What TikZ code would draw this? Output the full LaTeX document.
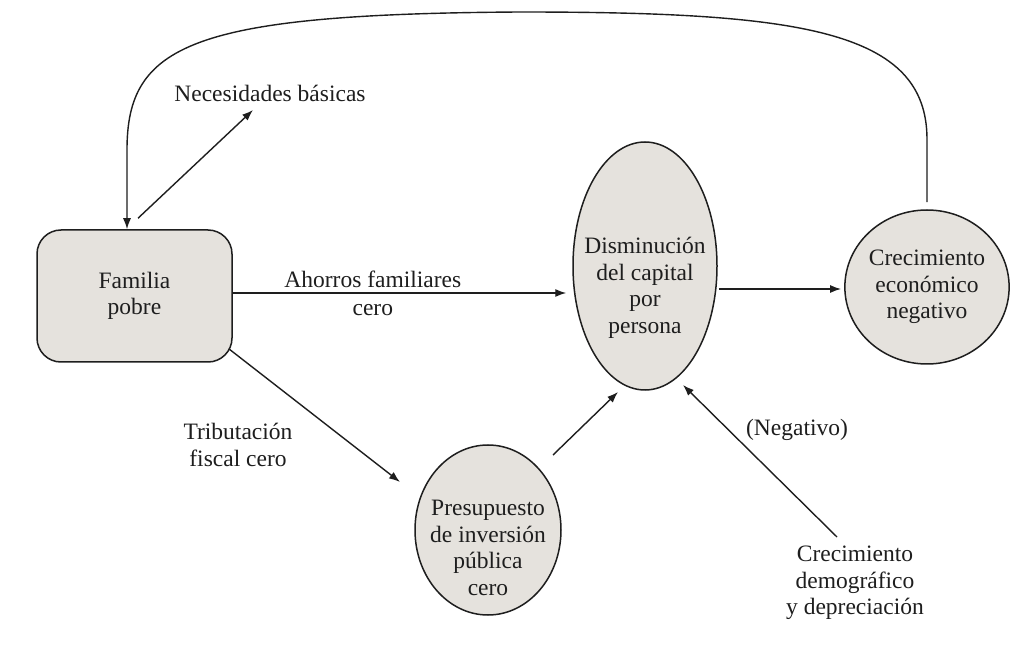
\documentclass[tikz,border=0pt]{standalone}
\usepackage{fontspec}
\setmainfont{Liberation Serif}
\usetikzlibrary{arrows.meta,shapes.geometric}
\definecolor{nodefill}{RGB}{229,226,221}
\definecolor{ink}{RGB}{30,30,30}
\begin{document}
\begin{tikzpicture}[x=1pt,y=-1pt,
  font=\fontsize{23.5}{26.5}\selectfont,
  box/.style={draw=ink, line width=1.5pt, fill=nodefill, rounded corners=24pt,
    minimum width=195pt, minimum height=132pt, inner sep=0pt, align=center, text=ink},
  oval/.style={draw=ink, line width=1.5pt, fill=nodefill, ellipse, inner sep=0pt,
    align=center, text=ink},
  txt/.style={text=ink, align=center, inner sep=0pt},
  arr/.style={draw=ink, line width=1.4pt, -{Latex[length=11pt,width=8pt]}},
]
\useasboundingbox (0,0) rectangle (1021,652);
\fill[white] (0,0) rectangle (1021,652);

\node[box] (fam) at (134.5,296) {Familia\\pobre};
\node[oval, minimum width=144pt, minimum height=248pt] (dis) at (645,266) {};
\node[txt] (dist) at (645,288) {Disminución\\del capital\\por\\persona};
\node[oval, minimum width=158pt, minimum height=154pt] (cre) at (927,287) {Crecimiento\\económico\\negativo};
\node[oval, minimum width=146pt, minimum height=170pt] (pre) at (488,530) {};
\node[txt] (pret) at (488,548) {Presupuesto\\de inversión\\pública\\cero};

\node[txt] (need) at (270,93) {Necesidades básicas};
\node[txt] (trib) at (238,445) {Tributación\\fiscal cero};
\node[txt] (neg) at (797,430) {(Negativo)};
\node[txt] (demo) at (855,583) {Crecimiento\\demográfico\\y depreciación};

\draw[arr] ([shift={(3.5,-11)}]fam.north) -- ([shift={(-17,17)}]need.center);
\draw[arr] ([shift={(0,-3)}]fam.east) -- node[txt, pos=0.42] (ahorro) {Ahorros familiares\\[1.5pt]cero} ([shift={(-6,27)}]dis.west);
\draw[arr] ([shift={(1,23)}]dis.east) -- ([shift={(-3,2)}]cre.west);
\draw[arr] ([shift={(-4,-14)}]fam.south east) -- ([shift={(-88,-48)}]pre.center);
\draw[arr] ([shift={(65,-75)}]pre.center) -- ([shift={(-27,126)}]dis.center);
\draw[arr] ([shift={(-18,-46)}]demo.center) -- ([shift={(38,119)}]dis.center);
\draw[arr] ([shift={(0,-7)}]cre.north) -- ++(0,-63)
  .. controls (927,30) and (800,12) .. (520,12)
  .. controls (190,14) and (127,45) .. (127,150)
  -- ([shift={(-7.5,0)}]fam.north);
\end{tikzpicture}
\end{document}
